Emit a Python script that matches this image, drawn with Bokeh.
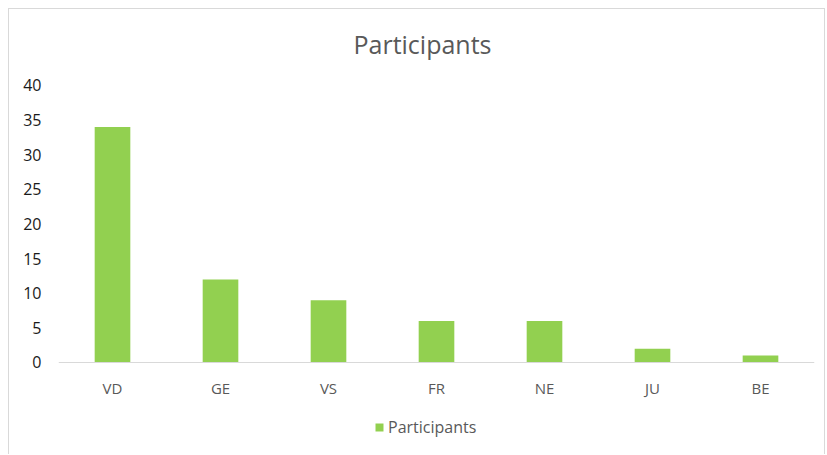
from bokeh.plotting import figure
from bokeh.models import (ColumnDataSource, Range1d, Label, Legend, LegendItem,
                          FixedTicker, CategoricalAxis)
from bokeh.embed import file_html
from bokeh.resources import INLINE

cantons = ["VD", "GE", "VS", "FR", "NE", "JU", "BE"]
participants = [34, 12, 9, 6, 6, 2, 1]
y_ticks = [0, 5, 10, 15, 20, 25, 30, 35, 40]
title_text = "Participants"
series_name = "Participants"

FONT = "Open Sans"
GREEN = "#92D050"

src = ColumnDataSource(dict(canton=cantons, value=participants))

# the frame spans the full canvas height; title and legend live inside it
p = figure(x_range=cantons, y_range=Range1d(-13.43, 50.97), width=817, height=446,
           output_backend="svg", toolbar_location=None, x_axis_location=None,
           min_border_left=49, min_border_right=12, min_border_top=0, min_border_bottom=0)
p.styles = {"margin-left": "8px", "margin-top": "8px",
            "border-top": "1px solid #d9d9d9", "border-left": "1px solid #d9d9d9",
            "border-right": "1px solid #d9d9d9"}
p.outline_line_color = None
p.background_fill_color = "white"
p.border_fill_color = "white"

r = p.vbar(x="canton", top="value", width=0.33, source=src, fill_color=GREEN, line_color=None)

p.xgrid.grid_line_color = None
p.ygrid.grid_line_color = None

xaxis = CategoricalAxis(fixed_location=0)
xaxis.axis_line_color = "#d9d9d9"
xaxis.major_tick_line_color = None
xaxis.minor_tick_line_color = None
xaxis.major_label_text_font = FONT
xaxis.major_label_text_font_size = "15px"
xaxis.major_label_text_color = "#595959"
xaxis.major_label_standoff = 10
p.add_layout(xaxis, "below")

p.yaxis.ticker = FixedTicker(ticks=y_ticks)
p.yaxis.axis_line_color = None
p.yaxis.major_tick_line_color = None
p.yaxis.minor_tick_line_color = None
p.yaxis.major_tick_out = 0
p.yaxis.major_tick_in = 0
p.yaxis.major_label_text_font = FONT
p.yaxis.major_label_text_font_size = "16px"
p.yaxis.major_label_text_color = "#1a1a1a"
p.yaxis.major_label_standoff = 17

# x in the categorical range's synthetic coordinates: 3.5 = centre of "FR"
p.add_layout(Label(x=3.5, y=46.05, x_offset=-14, text=title_text, text_font=FONT,
                   text_font_size="25px", text_color="#595959",
                   text_align="center", text_baseline="alphabetic"))

legend = Legend(items=[LegendItem(label=series_name, renderers=[r])],
                location=(316, 17), orientation="horizontal",
                padding=0, margin=0, border_line_color=None, background_fill_alpha=0,
                glyph_width=10, glyph_height=10, label_standoff=4, label_height=20,
                label_text_font=FONT, label_text_font_size="16px", label_text_color="#595959")
p.add_layout(legend)

open("out.html", "w").write(file_html(p, INLINE))
